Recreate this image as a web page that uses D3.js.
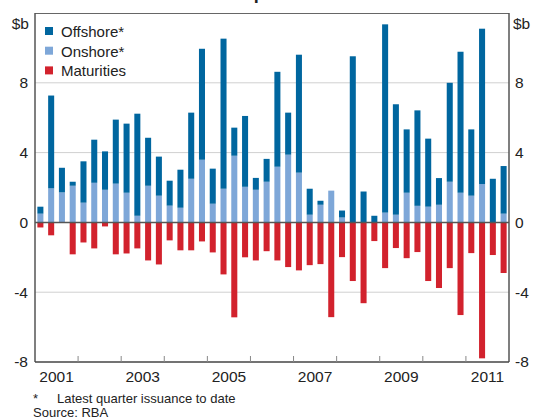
<!DOCTYPE html>
<html>
<head>
<meta charset="utf-8">
<script src="https://cdn.jsdelivr.net/npm/d3@7"></script>
<style>
  html, body { margin: 0; padding: 0; background: #fff; }
  svg { display: block; font-family: Arial, "Liberation Sans", sans-serif; }
</style>
</head>
<body>
<svg id="chart" width="536" height="418"></svg>
<script>
// ---- data ----
const years = [2001, 2002, 2003, 2004, 2005, 2006, 2007, 2008, 2009, 2010, 2011];
const quarterNames = ["Q1", "Q2", "Q3", "Q4"];
const categories = years.flatMap(y => quarterNames.map(q => y + q));

const onshore = [0.5, 1.95, 1.72, 2.1, 1.13, 2.27, 1.87, 2.22, 1.7, 0.38, 2.1, 1.53, 0.96, 0.84, 2.5, 3.59,
  1.07, 1.93, 3.82, 2.04, 1.87, 2.33, 3.19, 3.88, 2.85, 0.44, 1.01, 1.82, 0.28, 0, 0, 0,
  0.56, 0.44, 1.7, 0.95, 0.9, 1.01, 2.33, 1.7, 1.53, 2.2, 0, 0.5];
const offshore = [0.4, 5.32, 1.41, 0.23, 2.37, 2.47, 2.2, 3.67, 3.96, 5.85, 2.75, 2.24, 1.43, 2.18, 3.79, 6.36,
  2.01, 8.6, 1.61, 4.06, 0.68, 1.31, 5.44, 2.41, 6.76, 1.49, 0.23, 0, 0.4, 9.52, 1.77, 0.38,
  10.79, 6.33, 3.63, 5.47, 3.9, 1.53, 5.67, 8.08, 3.8, 8.9, 2.5, 2.73];
const maturities = [-0.29, -0.74, 0, -1.83, -1.15, -1.49, -0.23, -1.83, -1.78, -1.49, -2.18, -2.41, -1.03, -1.6, -1.6, -1.09,
  -1.72, -2.98, -5.44, -2.0, -2.18, -1.65, -2.18, -2.56, -2.75, -2.45, -2.39, -5.43, -1.99, -3.36, -4.63, -1.07,
  -2.62, -1.47, -2.05, -1.7, -3.36, -3.76, -2.62, -5.31, -1.76, -7.79, -1.87, -2.9];

const yTicks = [-8, -4, 0, 4, 8];
const gridValues = [-4, 4, 8];
const yearLabels = [2001, 2003, 2005, 2007, 2009, 2011];
const seriesNames = ["Offshore*", "Onshore*", "Maturities"];
const titleText = "Non-financial Corporates' Bond Issuance";
const footnote = "Latest quarter issuance to date";
const sourceText = "Source: RBA";

// ---- styles ----
const colors = { "Offshore*": "#00669f", "Onshore*": "#7ea7d8", "Maturities": "#d2222d" };

const svg = d3.select("#chart");
const plotL = 35, plotR = 509, plotT = 13, plotB = 362;

const x = d3.scaleBand().domain(categories).range([plotL, plotR]).paddingInner(0.44).paddingOuter(0.22);
const y = d3.scaleLinear().domain([-8, 12]).range([plotB, plotT]);
const step = x.step();
const boundary = yr => x(yr + "Q1") - (step - x.bandwidth()) / 2;

// title (mostly clipped at top, as in the reference)
svg.append("text").attr("x", 280).attr("y", -1).attr("text-anchor", "middle")
  .attr("font-size", 18).attr("font-weight", "bold").attr("fill", "#222").text(titleText);

// gridlines
svg.append("g").selectAll("line").data(gridValues).join("line")
  .attr("x1", plotL).attr("x2", plotR)
  .attr("y1", d => y(d)).attr("y2", d => y(d))
  .attr("stroke", "#d0d0d0").attr("stroke-width", 1);

// bars
const rows = categories.map((c, i) => ({ c, on: onshore[i], off: offshore[i], mat: maturities[i] }));
const gBars = svg.append("g");
gBars.selectAll("rect.on").data(rows).join("rect").attr("class", "on")
  .attr("x", d => x(d.c)).attr("width", x.bandwidth())
  .attr("y", d => y(d.on)).attr("height", d => y(0) - y(d.on))
  .attr("fill", colors["Onshore*"]);
gBars.selectAll("rect.off").data(rows).join("rect").attr("class", "off")
  .attr("x", d => x(d.c)).attr("width", x.bandwidth())
  .attr("y", d => y(d.on + d.off)).attr("height", d => y(d.on) - y(d.on + d.off))
  .attr("fill", colors["Offshore*"]);
gBars.selectAll("rect.mat").data(rows).join("rect").attr("class", "mat")
  .attr("x", d => x(d.c)).attr("width", x.bandwidth())
  .attr("y", y(0)).attr("height", d => y(d.mat) - y(0))
  .attr("fill", colors["Maturities"]);

// zero line
svg.append("line").attr("x1", plotL).attr("x2", plotR).attr("y1", y(0)).attr("y2", y(0))
  .attr("stroke", "#555").attr("stroke-width", 1.5);

// frame
svg.append("line").attr("x1", plotL).attr("x2", plotR).attr("y1", plotT + 0.5).attr("y2", plotT + 0.5)
  .attr("stroke", "#666").attr("stroke-width", 1);
svg.append("line").attr("x1", plotR).attr("x2", plotR).attr("y1", plotT).attr("y2", plotB)
  .attr("stroke", "#555").attr("stroke-width", 1.5);
svg.append("line").attr("x1", plotL).attr("x2", plotL).attr("y1", plotT).attr("y2", plotB)
  .attr("stroke", "#555").attr("stroke-width", 1.5);
svg.append("line").attr("x1", plotL).attr("x2", plotR).attr("y1", plotB).attr("y2", plotB)
  .attr("stroke", "#444").attr("stroke-width", 1.5);

// x ticks at year boundaries
svg.append("g").selectAll("line").data(years.slice(1)).join("line")
  .attr("x1", d => boundary(d)).attr("x2", d => boundary(d))
  .attr("y1", plotB).attr("y2", plotB - 6)
  .attr("stroke", "#888").attr("stroke-width", 1);

// x labels
svg.append("g").selectAll("text").data(yearLabels).join("text")
  .attr("x", d => boundary(d) + 2 * step).attr("y", 382)
  .attr("text-anchor", "middle").attr("font-size", 15.5).attr("fill", "#222")
  .text(d => d);

// y labels
const yl = svg.append("g").attr("font-size", 15.5).attr("fill", "#222");
yl.selectAll("text.l").data(yTicks).join("text").attr("class", "l")
  .attr("x", 28).attr("y", d => y(d)).attr("dy", "0.35em").attr("text-anchor", "end")
  .text(d => d);
yl.selectAll("text.r").data(yTicks).join("text").attr("class", "r")
  .attr("x", 515).attr("y", d => y(d)).attr("dy", "0.35em").attr("text-anchor", "start")
  .text(d => d);
yl.append("text").attr("x", 29).attr("y", 29).attr("text-anchor", "end").text("$b");
yl.append("text").attr("x", 513).attr("y", 29).attr("text-anchor", "start").text("$b");

// legend
const lg = svg.append("g");
seriesNames.forEach((s, i) => {
  const yy = 37 + i * 19.7;
  lg.append("rect").attr("x", 45).attr("y", yy - 10).attr("width", 8).attr("height", 8).attr("fill", colors[s]);
  lg.append("text").attr("x", 61).attr("y", yy).attr("font-size", 15).attr("fill", "#222").text(s);
});

// footnotes
svg.append("text").attr("x", 33).attr("y", 403).attr("font-size", 13).attr("fill", "#222").text("*");
svg.append("text").attr("x", 57).attr("y", 403).attr("font-size", 13).attr("fill", "#222").text(footnote);
svg.append("text").attr("x", 33).attr("y", 416.5).attr("font-size", 13).attr("fill", "#222").text(sourceText);
</script>
</body>
</html>
